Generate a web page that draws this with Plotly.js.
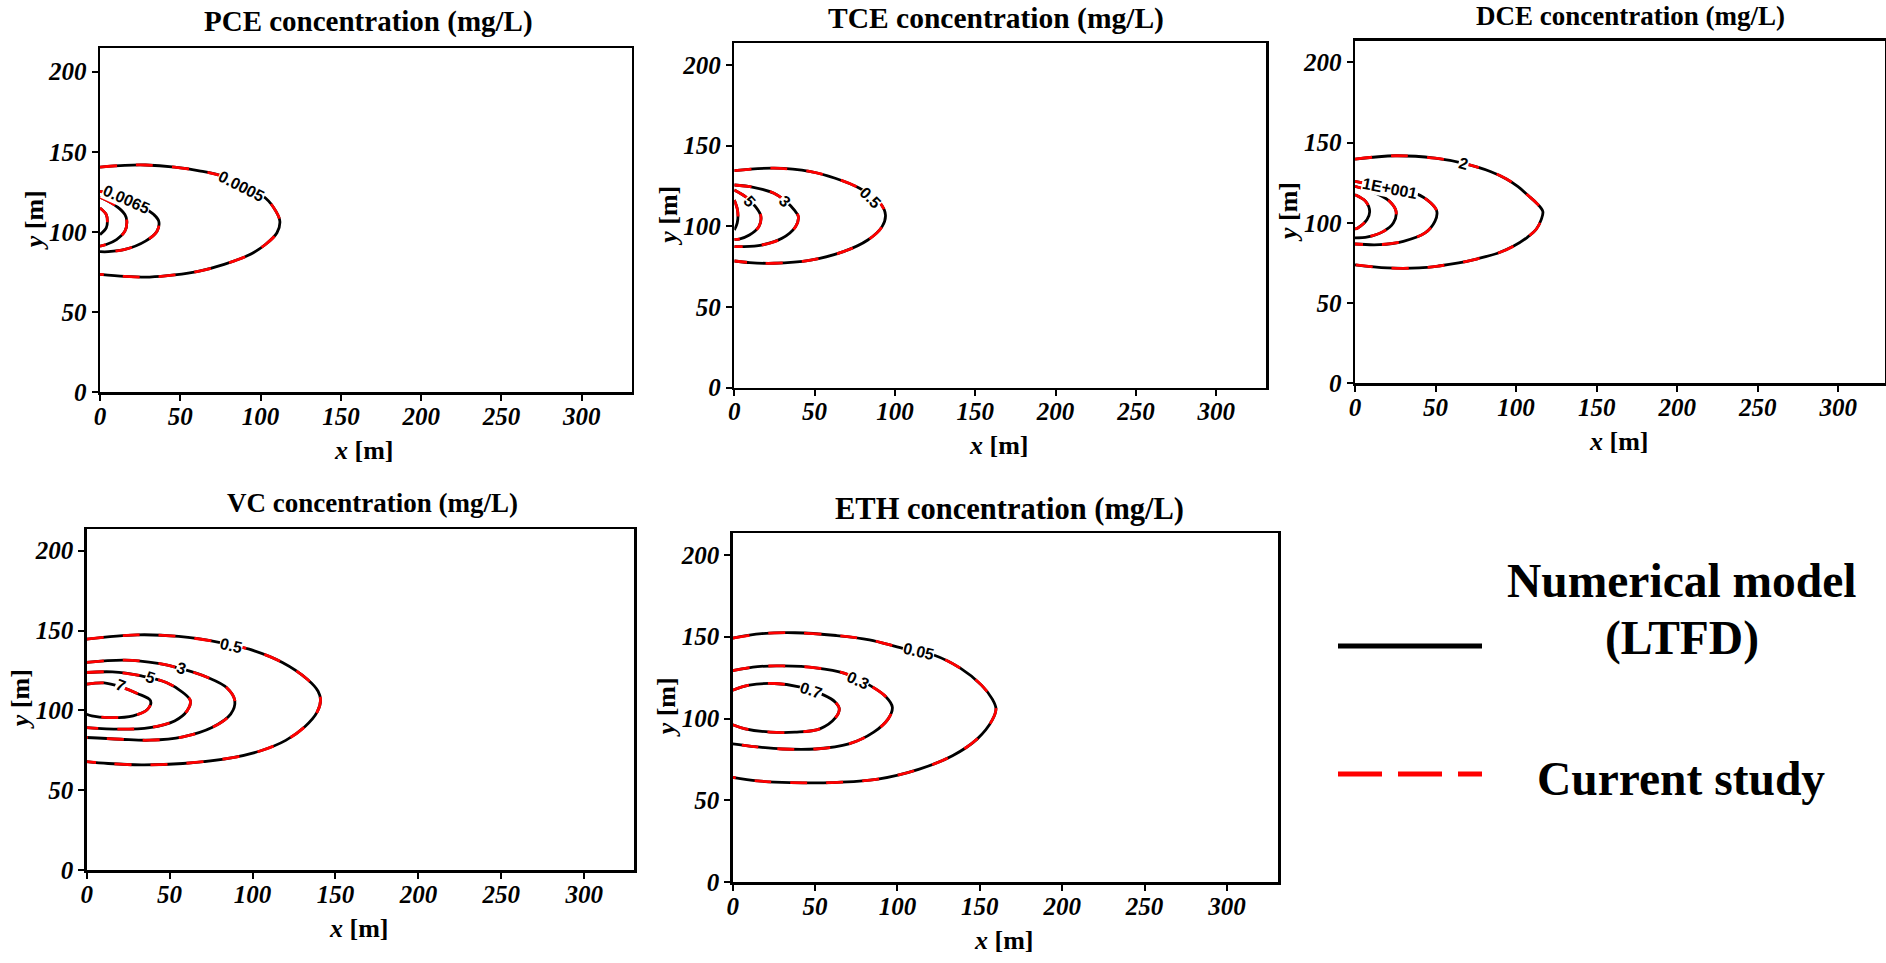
<!DOCTYPE html>
<html>
<head>
<meta charset="utf-8">
<script src="https://cdn.plot.ly/plotly-3.0.1.min.js"></script>
<style>
html, body { margin: 0; padding: 0; background: #ffffff; }
#chart { width: 1886px; height: 963px; }
</style>
</head>
<body>
<div id="chart"></div>
<script>
// ---------------- DATA ----------------
// Contour lines: x [m], y [m]. Numerical model (LTFD) and current study coincide.
// PCE
const pceX_a = [0, 15.5, 28.3, 46.4, 61.8, 74.7, 90.1, 103, 109.5, 112, 110.2, 103, 92.7, 77.3, 61.8, 46.4, 30.9, 15.5, 0];
const pceY_a = [140.5, 141.6, 141.8, 140.5, 138.2, 135.3, 128.5, 121.2, 113, 106.7, 99.5, 92.2, 85.6, 79.8, 75.6, 73.2, 71.9, 72.3, 73.6];
const pceX_b = [0, 15.5, 25.8, 33.5, 36.6, 35.5, 28.3, 15.5, 5.2, 0];
const pceY_b = [125.4, 121.2, 116, 110.9, 106.7, 100.5, 94.3, 89.1, 87.7, 87.7];
const pceX_c = [0, 9, 15.5, 16.7, 15.5, 10.3, 3.9, 0];
const pceY_c = [121.7, 117, 110.9, 106.7, 100.5, 95.3, 92.2, 91.2];
const pceX_d = [0, 3.9, 4.6, 3.9, 0];
const pceY_d = [115, 110.9, 106.7, 102.6, 98.4];
const pceLabels = ['0.0005', '0.0065'];
// TCE
const tceX_a = [0, 24.7, 47.5, 62.8, 78, 90.8, 94.1, 92, 83.1, 67.9, 47.5, 24.7, 9.4, 0];
const tceY_a = [134.5, 136, 133.9, 129.8, 123.6, 114.3, 107, 99.8, 91.5, 84.3, 79.1, 77.1, 77.5, 78.5];
const tceX_b = [0, 11.9, 24.7, 32.3, 37.4, 39.9, 38.1, 29.7, 17, 4.3, 0];
const tceY_b = [125.6, 124.2, 120.5, 115.3, 110, 106, 99.8, 92.6, 88.4, 87.4, 87.4];
const tceX_c = [0, 6.9, 13.2, 16.5, 15.3, 9.4, 3, 0];
const tceY_c = [122.5, 118.4, 112.2, 106.4, 99.8, 94.6, 92.1, 91.9];
const tceX_d = [0, 1.8, 2.3, 1.8, 0];
const tceY_d = [116.3, 111, 106.5, 102, 97.7];
const tceLabels = ['0.5', '3', '5'];
// DCE
const dceX_a = [0, 25, 49.6, 66.8, 84, 94, 101.2, 107.5, 113, 116.6, 115.6, 112.5, 107, 98.5, 88.9, 76, 64.3, 52, 39.8, 20.1, 0];
const dceY_a = [139.7, 141.8, 140.3, 137.2, 132, 127.3, 122.5, 117, 112, 107.1, 102, 96, 91, 85.5, 81.2, 77.6, 75, 73.1, 71.9, 71.9, 73.8];
const dceX_b = [0, 10.3, 37.3, 47.1, 50.8, 49.6, 43.5, 30, 15.2, 0];
const dceY_b = [125.8, 123.7, 118.5, 112.3, 107.1, 100.9, 93.7, 88.5, 86.4, 86.8];
const dceX_c = [0, 12.8, 21.4, 25.5, 23.8, 17.7, 7.9, 0];
const dceY_c = [122.7, 118.5, 113.4, 107.1, 99.9, 94.7, 91.2, 90.6];
const dceX_d = [0, 6.6, 9.1, 7.4, 1.7, 0];
const dceY_d = [117.5, 113.4, 107.1, 101.9, 96.8, 96.2];
const dceLabels = ['2', '1E+001'];
// VC
const vcX_a = [0, 30.5, 55.5, 80.5, 98, 118, 133, 139.5, 141, 139, 131.5, 120, 105, 88, 58, 33, 13, 0];
const vcY_a = [144.6, 147.3, 146.3, 142.5, 138.3, 130, 119.5, 112, 106.5, 99, 89.7, 81.2, 74.7, 70.4, 66.7, 65.8, 66.7, 67.9];
const vcX_b = [0, 23, 43, 58, 73, 84.3, 89.3, 86.8, 75.5, 58, 38, 20.5, 0];
const vcY_b = [130, 131.5, 129.4, 125.8, 120.6, 114.3, 106, 97.6, 89.2, 83.4, 81.3, 81.9, 83];
const vcX_c = [0, 15.5, 33, 48, 58, 62.5, 60.5, 53, 38, 20.5, 0];
const vcY_c = [123.7, 124.1, 121.6, 117.5, 111.2, 106, 99.7, 93.4, 89.2, 88.2, 89.2];
const vcX_d = [0, 10.5, 20.5, 30.5, 38.5, 36.8, 28, 13, 3, 0];
const vcY_d = [116.4, 117.2, 114.7, 110.6, 106, 100.8, 96.6, 95.5, 96.6, 97.6];
const vcLabels = ['0.5', '3', '5', '7'];
// ETH
const ethX_a = [0, 17.6, 37.8, 62.9, 83, 103.2, 122, 138.4, 151, 157.5, 159.8, 157.5, 148.5, 133.4, 113.3, 88.1, 60.4, 35.2, 15.1, 0];
const ethY_a = [149.1, 151.8, 152.4, 150.7, 148.1, 142.9, 138.8, 130.6, 120.4, 112, 106, 99, 87.6, 77.3, 69.1, 63, 60.9, 60.9, 61.9, 64];
const ethX_b = [0, 15.1, 30.2, 50.3, 68, 83, 93.1, 96.9, 94.4, 85.6, 70.5, 50.3, 30.2, 12.6, 0];
const ethY_b = [129.2, 131.7, 132.1, 131, 127.6, 120.4, 113.2, 107, 99.8, 91.7, 84.5, 81.4, 81.4, 82.9, 84.5];
const ethX_c = [0, 10.1, 25.2, 40.3, 55.4, 62.3, 64.7, 62.4, 52.9, 37.8, 22.7, 7.6, 0];
const ethY_c = [117.3, 120.4, 121.4, 119.4, 114.3, 110, 106, 100.5, 93.7, 91.7, 91.7, 93.7, 96.2];
const ethLabels = ['0.05', '0.3', '0.7'];

const panelTitles = ['PCE concentration (mg/L)', 'TCE concentration (mg/L)', 'DCE concentration (mg/L)', 'VC concentration (mg/L)', 'ETH concentration (mg/L)'];
const xTickVals = [0, 50, 100, 150, 200, 250, 300];
const yTickVals = [0, 50, 100, 150, 200];
const legendNames = ['Numerical model', '(LTFD)', 'Current study'];

// ---------------- LAYOUT (pixel geometry, styles) ----------------
const W = 1886, H = 963;
const SERIF = 'Liberation Serif';
const SANS = 'Liberation Sans';
// plot boxes in px: [left, top, right, bottom], axis maxima, title centre (dx, y), title size
const geom = [
  {box: [100, 48.3, 631.7, 392.3], xmax: 331.1, ymax: 214.6, tdx: 3, ty: 21, ts: 29},
  {box: [734.3, 43.3, 1266, 387.7], xmax: 331, ymax: 213.4, tdx: -4, ty: 19, ts: 29.5},
  {box: [1355, 40.7, 1885, 383.3], xmax: 329, ymax: 213.5, tdx: 10, ty: 16, ts: 27},
  {box: [86.7, 529, 634, 870], xmax: 330, ymax: 213.6, tdx: 12, ty: 503, ts: 27},
  {box: [732.7, 533, 1278, 882.3], xmax: 331, ymax: 213.3, tdx: 4, ty: 509, ts: 30.5}
];
// contour label placement: [x, y, angle]
const labelPos = [
  [[88.3, 128.5, 27], [16.5, 120.3, 24]],
  [[84.4, 117.6, 45], [31.5, 115.3, 45], [9.5, 115.3, 48]],
  [[67.3, 136.8, 15], [21.5, 121.5, 11]],
  [[86.8, 140.4, 13], [57.3, 126.4, 17], [38.5, 120.6, 18], [20.5, 115.4, 22]],
  [[112.8, 140.9, 13], [76.3, 123.5, 25], [47.8, 117.3, 19]]
];

const panelContours = [
  [[pceX_a, pceY_a], [pceX_b, pceY_b], [pceX_c, pceY_c], [pceX_d, pceY_d]],
  [[tceX_a, tceY_a], [tceX_b, tceY_b], [tceX_c, tceY_c], [tceX_d, tceY_d]],
  [[dceX_a, dceY_a], [dceX_b, dceY_b], [dceX_c, dceY_c], [dceX_d, dceY_d]],
  [[vcX_a, vcY_a], [vcX_b, vcY_b], [vcX_c, vcY_c], [vcX_d, vcY_d]],
  [[ethX_a, ethY_a], [ethX_b, ethY_b], [ethX_c, ethY_c]]
];
const panelLabels = [pceLabels, tceLabels, dceLabels, vcLabels, ethLabels];

const traces = [];
const layout = {
  width: W, height: H,
  margin: {l: 0, r: 0, t: 0, b: 0},
  paper_bgcolor: '#ffffff', plot_bgcolor: '#ffffff',
  showlegend: false,
  annotations: [],
  shapes: []
};

const italicText = v => '<i>' + v + '</i>';

geom.forEach((g, i) => {
  const n = i + 1;
  const xa = n === 1 ? 'x' : 'x' + n;
  const ya = n === 1 ? 'y' : 'y' + n;
  const [l, t, r, b] = g.box;
  const common = {
    ticks: 'outside', ticklen: 6, tickwidth: 2, tickcolor: '#000',
    showline: true, linecolor: '#000', linewidth: 2.5, mirror: true,
    showgrid: false, zeroline: false, fixedrange: true,
    tickfont: {family: SERIF, size: 25, color: '#000000', weight: 'bold', style: 'italic'}
  };
  layout['xaxis' + (n === 1 ? '' : n)] = Object.assign({}, common, {
    domain: [l / W, r / W], range: [0, g.xmax], anchor: ya,
    tickmode: 'array', tickvals: xTickVals, ticktext: xTickVals.map(italicText),
    ticklabelstandoff: -6
  });
  layout['yaxis' + (n === 1 ? '' : n)] = Object.assign({}, common, {
    domain: [1 - b / H, 1 - t / H], range: [0, g.ymax], anchor: xa,
    tickmode: 'array', tickvals: yTickVals, ticktext: yTickVals.map(italicText)
  });

  panelContours[i].forEach(([cx, cy]) => {
    traces.push({
      type: 'scatter', mode: 'lines', x: cx, y: cy, xaxis: xa, yaxis: ya,
      name: 'Numerical model (LTFD)', hoverinfo: 'skip',
      line: {color: '#000000', width: 2.8, shape: 'spline', smoothing: 1}
    });
  });
  panelContours[i].forEach(([cx, cy]) => {
    traces.push({
      type: 'scatter', mode: 'lines', x: cx, y: cy, xaxis: xa, yaxis: ya,
      name: 'Current study', hoverinfo: 'skip',
      line: {color: '#ff0000', width: 2.8, shape: 'spline', smoothing: 1, dash: '17px,19px'}
    });
  });

  // contour labels
  panelLabels[i].forEach((txt, k) => {
    const p = labelPos[i][k];
    layout.annotations.push({
      xref: xa, yref: ya, x: p[0], y: p[1], text: txt, showarrow: false,
      textangle: p[2], xanchor: 'center', yanchor: 'middle',
      bgcolor: '#ffffff', borderpad: 0,
      font: {family: SANS, size: 16, color: '#000', weight: 'bold'}
    });
  });

  // panel title
  layout.annotations.push({
    xref: 'paper', yref: 'paper', x: ((l + r) / 2 + g.tdx) / W, y: 1 - g.ty / H,
    text: panelTitles[i], showarrow: false, xanchor: 'center', yanchor: 'middle',
    font: {family: SERIF, size: g.ts, color: '#000', weight: 'bold'}
  });
  // x axis title
  layout.annotations.push({
    xref: 'paper', yref: 'paper', x: ((l + r) / 2 - 2) / W, y: 1 - (b + 58) / H,
    text: '<i>x</i> [m]', showarrow: false, xanchor: 'center', yanchor: 'middle',
    font: {family: SERIF, size: 26, color: '#000', weight: 'bold'}
  });
  // y axis title
  layout.annotations.push({
    xref: 'paper', yref: 'paper', x: (l - 66) / W, y: 1 - ((t + b) / 2) / H,
    text: '<i>y</i> [m]', showarrow: false, textangle: -90,
    xanchor: 'center', yanchor: 'middle',
    font: {family: SERIF, size: 26, color: '#000', weight: 'bold'}
  });
});

// custom legend (bottom right)
layout.shapes.push({
  type: 'line', xref: 'paper', yref: 'paper',
  x0: 1338 / W, x1: 1482 / W, y0: 1 - 646 / H, y1: 1 - 646 / H,
  line: {color: '#000000', width: 5}
});
layout.shapes.push({
  type: 'line', xref: 'paper', yref: 'paper',
  x0: 1338 / W, x1: 1482 / W, y0: 1 - 774 / H, y1: 1 - 774 / H,
  line: {color: '#ff0000', width: 5, dash: '44px,16px'}
});
const legendFont = {family: SERIF, size: 47.5, color: '#000', weight: 'bold'};
layout.annotations.push({
  xref: 'paper', yref: 'paper', x: 1682 / W, y: 1 - 581 / H,
  text: legendNames[0], showarrow: false, xanchor: 'center', yanchor: 'middle', font: legendFont
});
layout.annotations.push({
  xref: 'paper', yref: 'paper', x: 1682 / W, y: 1 - 638 / H,
  text: legendNames[1], showarrow: false, xanchor: 'center', yanchor: 'middle', font: legendFont
});
layout.annotations.push({
  xref: 'paper', yref: 'paper', x: 1681 / W, y: 1 - 779 / H,
  text: legendNames[2], showarrow: false, xanchor: 'center', yanchor: 'middle', font: legendFont
});

Plotly.newPlot('chart', traces, layout, {displayModeBar: false, staticPlot: true});
</script>
</body>
</html>
